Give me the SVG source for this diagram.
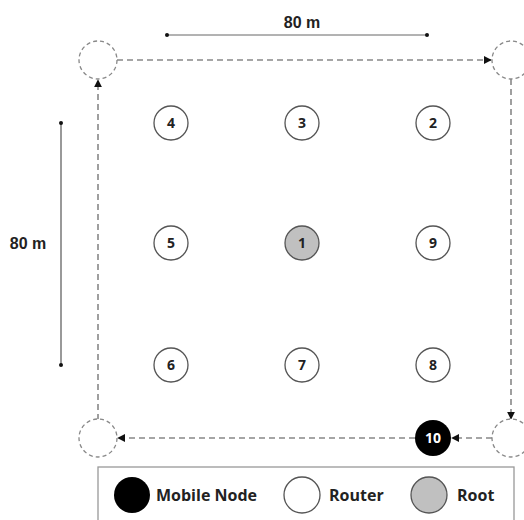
<svg xmlns="http://www.w3.org/2000/svg" width="524" height="520" viewBox="0 0 524 520">
<style>
.node{fill:#fff;stroke:#555;stroke-width:1.3}
.corner{fill:#fff;stroke:#888;stroke-width:1.3;stroke-dasharray:4 3}
.lbl{font-family:"Open Sans","Liberation Sans",sans-serif;font-weight:bold;font-size:14px;fill:#222;text-anchor:middle}
.leg{font-family:"Open Sans","Liberation Sans",sans-serif;font-weight:bold;font-size:16px;fill:#222}
.dim{font-family:"Liberation Sans",Arial,sans-serif;font-weight:bold;font-size:16px;fill:#222;text-anchor:middle}
.path{fill:none;stroke:#888;stroke-width:1.6;stroke-dasharray:6 4}
</style>
<defs>
<marker id="ah" viewBox="0 0 10 10" refX="9" refY="5" markerWidth="5" markerHeight="5" orient="auto" markerUnits="strokeWidth">
<path d="M0,0 L10,5 L0,10 z" fill="#111"/>
</marker>
</defs>
<rect width="524" height="520" fill="#fff"/>
<g id="connectors">
<line class="path" x1="117" y1="60" x2="491" y2="60" marker-end="url(#ah)"/>
<line class="path" x1="511" y1="79" x2="511" y2="419" marker-end="url(#ah)"/>
<line class="path" x1="492" y1="438" x2="452" y2="438" marker-end="url(#ah)"/>
<line class="path" x1="415" y1="438" x2="118" y2="438" marker-end="url(#ah)"/>
<line class="path" x1="98" y1="420" x2="98" y2="80" marker-end="url(#ah)"/>
</g>
<g id="dims">
<line x1="167" y1="35" x2="427" y2="35" stroke="#666" stroke-width="1"/>
<circle cx="167" cy="35" r="2" fill="#111"/>
<circle cx="427" cy="35" r="2" fill="#111"/>
<text class="dim" x="302" y="28">80 m</text>
<line x1="61" y1="123" x2="61" y2="365" stroke="#999" stroke-width="2"/>
<circle cx="61" cy="123" r="2" fill="#111"/>
<circle cx="61" cy="365" r="2" fill="#111"/>
<text class="dim" x="28" y="249">80 m</text>
</g>
<g id="c1"><circle class="corner" cx="98" cy="60" r="19"/></g>
<g id="c2"><circle class="corner" cx="511" cy="60" r="19"/></g>
<g id="c3"><circle class="corner" cx="98" cy="438" r="19"/></g>
<g id="c4"><circle class="corner" cx="511" cy="438" r="19"/></g>
<g id="n4"><circle class="node" cx="171" cy="123" r="17"/><text class="lbl" x="171" y="128">4</text></g>
<g id="n3"><circle class="node" cx="302" cy="123" r="17"/><text class="lbl" x="302" y="128">3</text></g>
<g id="n2"><circle class="node" cx="433" cy="123" r="17"/><text class="lbl" x="433" y="128">2</text></g>
<g id="n5"><circle class="node" cx="171" cy="243" r="17"/><text class="lbl" x="171" y="248">5</text></g>
<g id="n1"><circle class="node" cx="302" cy="243" r="17" style="fill:#c0c0c0"/><text class="lbl" x="302" y="248">1</text></g>
<g id="n9"><circle class="node" cx="433" cy="243" r="17"/><text class="lbl" x="433" y="248">9</text></g>
<g id="n6"><circle class="node" cx="171" cy="365" r="17"/><text class="lbl" x="171" y="370">6</text></g>
<g id="n7"><circle class="node" cx="302" cy="365" r="17"/><text class="lbl" x="302" y="370">7</text></g>
<g id="n8"><circle class="node" cx="433" cy="365" r="17"/><text class="lbl" x="433" y="370">8</text></g>
<g id="n10"><circle cx="433" cy="438" r="18" fill="#000"/><text class="lbl" x="433" y="443" style="fill:#fff">10</text></g>
<g id="legend">
<rect x="98" y="467" width="416" height="60" fill="#fff" stroke="#999" stroke-width="1.3"/>
<circle cx="132" cy="495" r="18" fill="#000"/>
<text class="leg" x="156" y="501">Mobile Node</text>
<circle cx="302" cy="495" r="18" fill="#fff" stroke="#555" stroke-width="1.3"/>
<text class="leg" x="329" y="501">Router</text>
<circle cx="429" cy="495" r="18" fill="#c0c0c0" stroke="#555" stroke-width="1.3"/>
<text class="leg" x="457" y="501">Root</text>
</g>
</svg>
